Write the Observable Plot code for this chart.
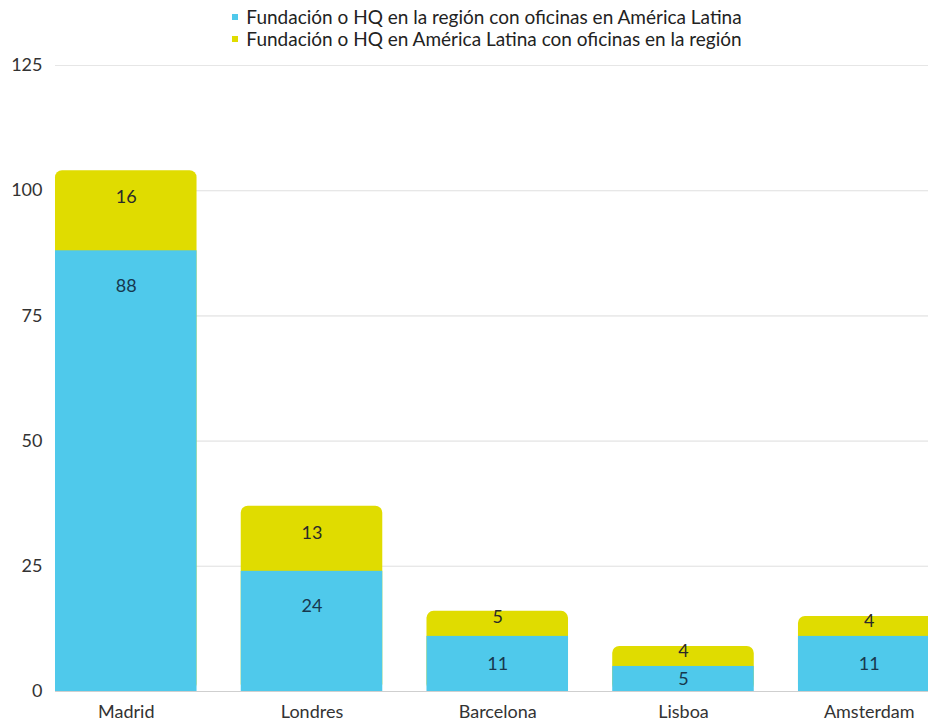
<!DOCTYPE html>
<html>
<head>
<meta charset="utf-8">
<script src="https://cdn.jsdelivr.net/npm/d3@7"></script>
<script src="https://cdn.jsdelivr.net/npm/@observablehq/plot@0.6"></script>
<style>
  html, body { margin: 0; padding: 0; background: #fff; overflow: hidden; }
  body { width: 928px; height: 722px; font-family: Lato, "Open Sans", sans-serif; }
  #legend { height: 50px; box-sizing: border-box; padding-top: 6px; padding-left: 46px; display: flex; flex-direction: column; align-items: center; font-size: 19px; color: #222; line-height: 22px; }
  #legend .item { display: flex; align-items: center; }
  #legend .sw { width: 6px; height: 6px; margin-right: 8px; display: inline-block; }
  #chart svg { overflow: visible; }
</style>
</head>
<body>
<div id="legend"></div>
<div id="chart"></div>
<script>
const ciudades = ["Madrid", "Londres", "Barcelona", "Lisboa", "Amsterdam"];
const regionConOficinasLatam = [88, 24, 11, 5, 11];
const latamConOficinasRegion = [16, 13, 5, 4, 4];
const series = [
  "Fundación o HQ en la región con oficinas en América Latina",
  "Fundación o HQ en América Latina con oficinas en la región"
];
const colores = ["#4fc9eb", "#e0dc00"];
const yTicks = [0, 25, 50, 75, 100, 125];

const rows = ciudades.map((c, i) => ({
  ciudad: c,
  azul: regionConOficinasLatam[i],
  amarillo: latamConOficinasRegion[i],
  total: regionConOficinasLatam[i] + latamConOficinasRegion[i]
}));

// Legend
const legend = document.getElementById("legend");
series.forEach((s, i) => {
  const d = document.createElement("div");
  d.className = "item";
  d.innerHTML = `<span class="sw" style="background:${colores[i]}"></span><span>${s}</span>`;
  legend.appendChild(d);
});

const chart = Plot.plot({
  width: 928,
  height: 672,
  marginTop: 15,
  marginBottom: 31,
  marginLeft: 55,
  marginRight: 0,
  style: { fontFamily: "Lato, 'Open Sans', sans-serif", fontSize: "18px", color: "#333", overflow: "visible" },
  x: {
    domain: ciudades,
    range: [55, 939.5],
    paddingInner: 0.238,
    paddingOuter: 0,
    align: 0,
    round: false,
    label: null,
    tickSize: 0,
    tickPadding: 14
  },
  y: {
    domain: [0, 125],
    ticks: yTicks,
    label: null,
    tickSize: 0,
    tickPadding: 13,
    grid: true
  },
  marks: [
    Plot.gridY(yTicks, { stroke: "#e6e6e6", strokeOpacity: 1 }),
    Plot.barY(rows, { x: "ciudad", y1: 0, y2: "total", fill: colores[1], rx: 7 }),
    Plot.barY(rows, { x: "ciudad", y1: 0, y2: "azul", fill: colores[0] }),
    Plot.ruleY([0], { stroke: "#cfcfcf" }),
    Plot.text(rows, {
      x: "ciudad",
      y: d => d.azul - Math.min(7, d.azul / 2),
      text: d => String(d.azul),
      fill: "#17384e",
      fontSize: 18
    }),
    Plot.text(rows, {
      x: "ciudad",
      y: d => d.total - (d.amarillo >= 10 ? 5.3 : d.amarillo * 0.25),
      text: d => String(d.amarillo),
      fill: "#2a2a2a",
      fontSize: 18
    })
  ]
});
document.getElementById("chart").appendChild(chart);
</script>
</body>
</html>
